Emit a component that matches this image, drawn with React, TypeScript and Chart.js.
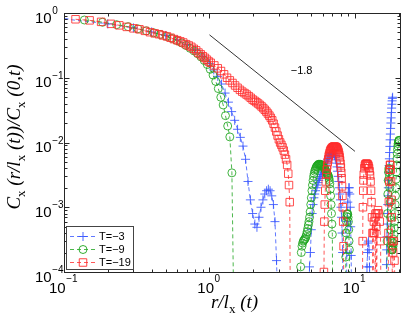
import React, { useEffect, useRef } from 'react';
import { Chart, registerables } from 'chart.js';

Chart.register(...registerables);

// ---------- axes ----------
const X_MIN = 0.1;
const X_MAX = 20.4;
const Y_MIN = 1e-4;
const Y_MAX = 1;
const xTickExponents = [-1, 0, 1];
const yTickExponents = [0, -1, -2, -3, -4];

// ---------- series ----------
const seriesNames = ['T=−3', 'T=−9', 'T=−19'];

// T = -3  (blue, plus markers)
const t3Points: [number, number][] = [
  [0.1, 0.81], [0.2, 0.68], [0.3, 0.59], [0.4, 0.51], [0.5, 0.45], [0.6, 0.385], [0.7, 0.325], [0.8, 0.27], [0.9, 0.215],
  [1.0, 0.165], [1.07, 0.132], [1.14, 0.105], [1.21, 0.08], [1.28, 0.058], [1.35, 0.042], [1.42, 0.03], [1.49, 0.022],
  [1.56, 0.016], [1.63, 0.012], [1.7, 0.0088], [1.77, 0.0055], [1.84, 0.0025], [1.91, 0.0013], [1.98, 0.0008],
  [2.05, 0.00055], [2.12, 0.00049], [2.19, 0.0007], [2.26, 0.001], [2.33, 0.0013], [2.4, 0.0016], [2.47, 0.0018],
  [2.54, 0.0019], [2.61, 0.0018], [2.68, 0.0015], [2.75, 0.0011], [2.82, 0.0006], [2.89, 0.00015], [2.96, 2e-5],
  [4.8, 2e-5], [4.87, 0.00012], [4.94, 0.0002], [5.01, 0.00045], [5.08, 0.0008], [5.15, 0.0011], [5.22, 0.0014],
  [5.29, 0.0016], [5.36, 0.0018], [5.43, 0.002], [5.5, 0.0022], [5.57, 0.0024], [5.64, 0.0026], [5.71, 0.0028],
  [5.78, 0.003], [5.85, 0.0032], [5.92, 0.0034], [5.99, 0.0036], [6.06, 0.0038], [6.13, 0.004], [6.2, 0.0042],
  [6.27, 0.0045], [6.34, 0.0048], [6.41, 0.0051], [6.48, 0.0054], [6.55, 0.0057], [6.62, 0.006], [6.69, 0.0063],
  [6.76, 0.0065], [6.83, 0.0067], [6.9, 0.0068], [6.97, 0.0069], [7.04, 0.0069], [7.11, 0.0068], [7.18, 0.0066],
  [7.25, 0.0063], [7.32, 0.0059], [7.39, 0.0054], [7.46, 0.0048], [7.53, 0.0042], [7.6, 0.0036], [7.67, 0.003],
  [7.74, 0.0025], [7.81, 0.002], [7.88, 0.0016], [7.95, 0.0013], [8.02, 0.001], [8.09, 0.0007], [8.16, 0.0004],
  [8.23, 0.0002], [8.3, 2e-5],
  [8.72, 2e-5], [8.79, 0.0002], [8.86, 0.0006], [8.93, 0.0012], [9.0, 0.0017], [9.07, 0.002], [9.14, 0.002],
  [9.21, 0.0016], [9.28, 0.001], [9.35, 0.0005], [9.42, 0.00018], [9.49, 2e-5],
  [12.0, 2e-5], [12.1, 0.00012], [12.2, 0.0002], [12.3, 0.00028], [12.4, 0.0003], [12.5, 0.00022],
  [12.6, 0.00012], [12.7, 2e-5],
  [16.4, 2e-5], [16.47, 0.00013], [16.54, 0.00022], [16.61, 0.00035], [16.68, 0.00055], [16.75, 0.0008],
  [16.82, 0.0011], [16.89, 0.0015], [16.96, 0.002], [17.03, 0.0026], [17.1, 0.0034], [17.17, 0.0044],
  [17.24, 0.0056], [17.31, 0.007], [17.38, 0.0087], [17.45, 0.011], [17.52, 0.0135], [17.59, 0.0165],
  [17.66, 0.02], [17.73, 0.024], [17.8, 0.029], [17.87, 0.034], [17.94, 0.039], [18.01, 0.044], [18.08, 0.048],
  [18.15, 0.05],
];

// T = -9  (green, circle markers)
const t9Points: [number, number][] = [
  [0.138, 0.78], [0.184, 0.72], [0.23, 0.66], [0.276, 0.615], [0.322, 0.57], [0.368, 0.53], [0.414, 0.495],
  [0.46, 0.465], [0.506, 0.435], [0.552, 0.405], [0.598, 0.375], [0.644, 0.345], [0.69, 0.315], [0.736, 0.285],
  [0.782, 0.26], [0.828, 0.235], [0.874, 0.21], [0.92, 0.185], [0.966, 0.16], [1.012, 0.135], [1.058, 0.11],
  [1.104, 0.088], [1.15, 0.068], [1.196, 0.05], [1.242, 0.038], [1.288, 0.026], [1.334, 0.018], [1.38, 0.0122],
  [1.426, 0.0034], [1.472, 2e-5],
  [4.186, 2e-5], [4.232, 0.00012], [4.278, 0.0002], [4.324, 0.00025], [4.37, 0.00028], [4.416, 0.0003],
  [4.462, 0.00031], [4.508, 0.00032], [4.554, 0.00033], [4.6, 0.00035], [4.646, 0.00038], [4.692, 0.00042],
  [4.738, 0.00047], [4.784, 0.00053], [4.83, 0.0006], [4.876, 0.0007], [4.922, 0.00085], [4.968, 0.0011],
  [5.014, 0.0014], [5.06, 0.0018], [5.106, 0.0022], [5.152, 0.0026], [5.198, 0.003], [5.244, 0.0033],
  [5.29, 0.0036], [5.336, 0.0038], [5.382, 0.004], [5.428, 0.0042], [5.474, 0.0043], [5.52, 0.0044],
  [5.566, 0.0045], [5.612, 0.0046], [5.658, 0.0046], [5.704, 0.0046], [5.75, 0.0046], [5.796, 0.0046],
  [5.842, 0.0045], [5.888, 0.0045], [5.934, 0.0044], [5.98, 0.0044], [6.026, 0.0043], [6.072, 0.0042],
  [6.118, 0.0041], [6.164, 0.004], [6.21, 0.0039], [6.256, 0.0038], [6.302, 0.0036], [6.348, 0.0035],
  [6.394, 0.0034], [6.44, 0.0033], [6.486, 0.0032], [6.532, 0.0031], [6.578, 0.003], [6.624, 0.0028],
  [6.67, 0.0026], [6.716, 0.0023], [6.762, 0.0019], [6.808, 0.0015], [6.854, 0.0011], [6.9, 0.0008],
  [6.946, 0.00055], [6.992, 0.00038], [7.038, 2e-5],
  [8.602, 2e-5], [8.648, 0.00017], [8.694, 0.0004], [8.74, 0.0006], [8.786, 0.00072], [8.832, 0.00078],
  [8.878, 0.0008], [8.924, 0.00078], [8.97, 0.0007], [9.016, 0.0006], [9.062, 0.00045], [9.108, 0.0003],
  [9.154, 0.00022], [9.2, 2e-5],
  [16.56, 2e-5], [16.65, 0.0003], [16.74, 0.0008], [16.83, 0.0016], [16.92, 0.0026], [17.01, 0.0035],
  [17.1, 0.004], [17.19, 0.0038], [17.28, 0.003], [17.37, 0.002], [17.46, 0.0012], [17.55, 0.0007],
  [17.64, 0.00045], [17.73, 0.0003], [17.82, 0.00025], [17.91, 0.00022], [18.0, 0.00022], [18.09, 0.00022],
  [18.18, 0.00023], [18.27, 0.00025], [18.36, 0.00028], [18.45, 0.00032], [18.54, 0.00038], [18.63, 0.00048],
  [18.72, 0.0006], [18.81, 0.0008], [18.9, 0.0011], [18.99, 0.0015], [19.08, 0.002], [19.17, 0.0027],
  [19.26, 0.0035], [19.35, 0.0045], [19.44, 0.0056], [19.53, 0.0067], [19.62, 0.0078], [19.71, 0.0088],
  [19.8, 0.0096], [19.89, 0.0102], [19.98, 0.0106], [20.07, 0.0108], [20.16, 0.0108],
];

// T = -19  (red, square markers)
const t19Points: [number, number][] = [
  [0.12, 0.8], [0.15, 0.77], [0.18, 0.73], [0.21, 0.68], [0.24, 0.645], [0.27, 0.61], [0.3, 0.58], [0.33, 0.56],
  [0.36, 0.53], [0.39, 0.505], [0.42, 0.485], [0.45, 0.47], [0.48, 0.45], [0.51, 0.435], [0.54, 0.415],
  [0.57, 0.395], [0.6, 0.38], [0.63, 0.365], [0.66, 0.35], [0.69, 0.33], [0.72, 0.315], [0.75, 0.3], [0.78, 0.28],
  [0.81, 0.265], [0.84, 0.245], [0.87, 0.23], [0.9, 0.215], [0.93, 0.203], [0.96, 0.19], [0.99, 0.178],
  [1.02, 0.17], [1.08, 0.155], [1.14, 0.14], [1.2, 0.127], [1.26, 0.113], [1.32, 0.1], [1.38, 0.091], [1.44, 0.083],
  [1.5, 0.076], [1.56, 0.07], [1.62, 0.065], [1.68, 0.061], [1.74, 0.058], [1.8, 0.055], [1.86, 0.052],
  [1.92, 0.049], [1.98, 0.046], [2.04, 0.044], [2.1, 0.042], [2.16, 0.04], [2.22, 0.038], [2.28, 0.036],
  [2.34, 0.034], [2.4, 0.032], [2.46, 0.03], [2.52, 0.028], [2.58, 0.026], [2.64, 0.024], [2.7, 0.022],
  [2.76, 0.0195], [2.82, 0.017], [2.88, 0.0148], [2.94, 0.0128], [3.0, 0.0112], [3.06, 0.01], [3.12, 0.0092],
  [3.18, 0.0084], [3.24, 0.0075], [3.3, 0.0065], [3.36, 0.0055], [3.42, 0.0045], [3.48, 0.0033], [3.52, 0.0022],
  [3.56, 0.0012], [3.6, 2e-5],
  [6.08, 2e-5], [6.12, 0.0001], [6.16, 0.0006], [6.2, 0.0011], [6.25, 0.0018], [6.3, 0.0025], [6.35, 0.0032],
  [6.4, 0.0038], [6.45, 0.0044], [6.5, 0.005], [6.55, 0.0055], [6.6, 0.0061], [6.65, 0.0065], [6.7, 0.0069],
  [6.75, 0.0073], [6.8, 0.0076], [6.85, 0.0078], [6.9, 0.008], [6.95, 0.0082], [7.0, 0.0083], [7.05, 0.0084],
  [7.1, 0.0085], [7.15, 0.0086], [7.2, 0.0086], [7.25, 0.0086], [7.3, 0.0086], [7.35, 0.0085], [7.4, 0.0085],
  [7.45, 0.0084], [7.5, 0.0082], [7.55, 0.008], [7.6, 0.0078], [7.65, 0.0075], [7.7, 0.0072], [7.75, 0.0068],
  [7.8, 0.0064], [7.85, 0.0059], [7.9, 0.0053], [7.95, 0.0047], [8.0, 0.0041], [8.05, 0.0034], [8.1, 0.0028],
  [8.15, 0.0021], [8.2, 0.0015], [8.25, 0.001], [8.3, 0.0006], [8.35, 0.00025], [8.4, 2e-5],
  [11.25, 2e-5], [11.3, 0.0003], [11.35, 0.001], [11.4, 0.0018], [11.45, 0.0026], [11.5, 0.0032], [11.6, 0.004],
  [11.7, 0.0044], [11.8, 0.0046], [11.9, 0.0047], [12.0, 0.0047], [12.1, 0.0047], [12.2, 0.0046], [12.3, 0.0045],
  [12.4, 0.0043], [12.5, 0.004], [12.6, 0.0036], [12.7, 0.0031], [12.8, 0.0025], [12.9, 0.0018], [13.0, 0.0012],
  [13.1, 0.0007], [13.2, 0.0004], [13.3, 2e-5],
  [13.4, 0.0004], [13.5, 0.0006], [13.6, 0.0004], [13.7, 0.0007], [13.8, 2e-5], [13.9, 0.0008], [14.0, 0.0005],
  [14.1, 2e-5], [14.2, 0.0008], [14.4, 0.0009], [14.6, 0.0008], [14.8, 0.0006], [15.0, 0.0003], [15.1, 2e-5],
  [16.9, 2e-5], [17.0, 0.0004], [17.1, 0.0012], [17.2, 0.0025], [17.3, 0.0038], [17.4, 0.0045], [17.5, 0.0045],
  [17.6, 0.0038], [17.7, 0.0025], [17.8, 0.0013], [17.9, 0.0007], [18.0, 0.0003], [18.1, 2e-5],
  [18.3, 0.0002], [18.5, 0.0003], [18.7, 0.00015], [18.9, 2e-5],
];

// reference power-law line (slope -1.8)
const slopeX = [1, 10];
const slopeY = [0.46, 0.0073];
const slopeLabel = '−1.8';

// axis titles
type Seg = { t: string; sub?: boolean };
const xTitleParts: Seg[] = [{ t: 'r/l' }, { t: 'x', sub: true }, { t: ' (t)' }];
const yTitleParts: Seg[] = [
  { t: 'C' }, { t: 'x', sub: true }, { t: ' (r/l' }, { t: 'x', sub: true }, { t: ' (t))/C' },
  { t: 'x', sub: true }, { t: ' (0,t)' },
];

const COLORS = ['rgb(55,85,255)', 'rgb(30,165,30)', 'rgb(255,45,45)'];
const MARKERS = ['cross', 'circle', 'rect'];
const SANS = '"Liberation Sans", Arial, Helvetica, sans-serif';
const SERIF = '"Liberation Serif", "Times New Roman", Times, serif';

function drawRich(ctx: CanvasRenderingContext2D, segs: Seg[], size: number, subSize: number, cx: number, base: number) {
  const fontOf = (s: Seg) => (s.sub ? `${subSize}px ${SERIF}` : `italic ${size}px ${SERIF}`);
  const widths = segs.map((s) => {
    ctx.font = fontOf(s);
    return ctx.measureText(s.t).width;
  });
  const total = widths.reduce((a, b) => a + b, 0);
  let x = cx - total / 2;
  ctx.textAlign = 'left';
  ctx.textBaseline = 'alphabetic';
  segs.forEach((s, i) => {
    ctx.font = fontOf(s);
    ctx.fillText(s.t, x, base + (s.sub ? subSize * 0.42 : 0));
    x += widths[i];
  });
}

function supText(e: number) {
  return e < 0 ? '−' + String(-e) : String(e);
}

function drawMarker(ctx: CanvasRenderingContext2D, kind: string, x: number, y: number, color: string) {
  ctx.save();
  ctx.setLineDash([]);
  ctx.strokeStyle = color;
  ctx.lineWidth = 0.9;
  ctx.beginPath();
  if (kind === 'cross') {
    ctx.moveTo(x - 4.5, y); ctx.lineTo(x + 4.5, y);
    ctx.moveTo(x, y - 4.5); ctx.lineTo(x, y + 4.5);
  } else if (kind === 'circle') {
    ctx.arc(x, y, 4, 0, Math.PI * 2);
  } else {
    ctx.rect(x - 3.75, y - 3.75, 7.5, 7.5);
  }
  ctx.stroke();
  ctx.restore();
}

const decorPlugin = {
  id: 'matlabDecor',
  afterDatasetsDraw(chart: any) {
    const { ctx, chartArea: ca, scales } = chart;
    const xs = scales.x;
    const ys = scales.y;
    ctx.save();

    // slope label
    ctx.fillStyle = '#000';
    ctx.font = `11px ${SANS}`;
    ctx.textAlign = 'center';
    ctx.textBaseline = 'alphabetic';
    ctx.fillText(slopeLabel, xs.getPixelForValue(4.3), ys.getPixelForValue(0.115));

    // axes box
    ctx.strokeStyle = '#262626';
    ctx.lineWidth = 1;
    ctx.setLineDash([]);
    const L = Math.round(ca.left) + 0.5;
    const R = Math.round(ca.right) + 0.5;
    const T = Math.round(ca.top) + 0.5;
    const B = Math.round(ca.bottom) + 0.5;
    ctx.strokeRect(L, T, R - L, B - T);

    // ticks (inward, all four sides)
    ctx.beginPath();
    for (let e = -1; e <= 1; e++) {
      for (let m = 1; m <= 9; m++) {
        const v = m * Math.pow(10, e);
        if (v < X_MIN - 1e-9 || v > X_MAX) continue;
        const px = Math.round(xs.getPixelForValue(v)) + 0.5;
        const len = m === 1 ? 5 : 3;
        ctx.moveTo(px, B); ctx.lineTo(px, B - len);
        ctx.moveTo(px, T); ctx.lineTo(px, T + len);
      }
    }
    for (let e = -4; e <= 0; e++) {
      for (let m = 1; m <= 9; m++) {
        const v = m * Math.pow(10, e);
        if (v < Y_MIN - 1e-12 || v > Y_MAX + 1e-9) continue;
        const py = Math.round(ys.getPixelForValue(v)) + 0.5;
        const len = m === 1 ? 5 : 3;
        ctx.moveTo(L, py); ctx.lineTo(L + len, py);
        ctx.moveTo(R, py); ctx.lineTo(R - len, py);
      }
    }
    ctx.stroke();

    // tick labels
    ctx.fillStyle = '#000';
    ctx.textAlign = 'left';
    ctx.textBaseline = 'alphabetic';
    xTickExponents.forEach((e) => {
      const px = xs.getPixelForValue(Math.pow(10, e));
      ctx.font = `15px ${SANS}`;
      const w10 = ctx.measureText('10').width;
      ctx.font = `10px ${SANS}`;
      const ws = ctx.measureText(supText(e)).width;
      const start = px - (w10 + ws) / 2 - 1;
      ctx.font = `15px ${SANS}`;
      ctx.fillText('10', start, ca.bottom + 21);
      ctx.font = `10px ${SANS}`;
      ctx.fillText(supText(e), start + w10 + 0.5, ca.bottom + 10);
    });
    yTickExponents.forEach((e) => {
      const py = ys.getPixelForValue(Math.pow(10, e));
      ctx.font = `15px ${SANS}`;
      const w10 = ctx.measureText('10').width;
      ctx.fillText('10', 35, py + 9.5);
      ctx.font = `10px ${SANS}`;
      ctx.fillText(supText(e), 35 + w10 + 0.5, py + 1);
    });

    // axis titles
    ctx.fillStyle = '#000';
    drawRich(ctx, xTitleParts, 19, 13, 234.5, ca.bottom + 36);
    ctx.save();
    ctx.translate(20, 137);
    ctx.rotate(-Math.PI / 2);
    drawRich(ctx, yTitleParts, 19, 13, 0, 0);
    ctx.restore();

    // legend
    const bx = 66.5, by = 226.5, bw = 67, bh = 43;
    ctx.fillStyle = '#fff';
    ctx.fillRect(bx, by, bw, bh);
    ctx.strokeStyle = '#444';
    ctx.lineWidth = 1;
    ctx.strokeRect(bx, by, bw, bh);
    seriesNames.forEach((name, i) => {
      const ry = 236.5 + i * 13;
      ctx.save();
      ctx.strokeStyle = COLORS[i];
      ctx.lineWidth = 0.8;
      ctx.setLineDash([4, 3]);
      ctx.beginPath();
      ctx.moveTo(70, ry); ctx.lineTo(96, ry);
      ctx.stroke();
      ctx.restore();
      drawMarker(ctx, MARKERS[i], 83, ry, COLORS[i]);
      ctx.fillStyle = '#000';
      ctx.font = `11px ${SANS}`;
      ctx.textAlign = 'left';
      ctx.textBaseline = 'middle';
      ctx.fillText(name, 99, ry + 0.5);
    });

    ctx.restore();
  },
};

export default function App() {
  const ref = useRef<HTMLCanvasElement | null>(null);

  useEffect(() => {
    if (!ref.current) return;
    const mk = (pts: [number, number][]) => pts.map(([x, y]) => ({ x, y }));
    const seriesPts = [t3Points, t9Points, t19Points];
    const datasets: any[] = seriesPts.map((pts, i) => ({
      label: seriesNames[i],
      data: mk(pts),
      showLine: true,
      borderColor: COLORS[i],
      borderWidth: 0.8,
      borderDash: [4, 3],
      pointStyle: MARKERS[i],
      pointRadius: i === 0 ? 4.5 : i === 1 ? 4 : 5.3,
      pointBorderColor: COLORS[i],
      pointBackgroundColor: 'rgba(0,0,0,0)',
      pointBorderWidth: 0.85,
      pointHoverRadius: 0,
      order: 2 - i,
      tension: 0,
    }));
    datasets.push({
      label: 'slope',
      data: slopeX.map((x, i) => ({ x, y: slopeY[i] })),
      showLine: true,
      borderColor: '#000',
      borderWidth: 0.8,
      pointRadius: 0,
      order: 5,
    });

    const chart = new Chart(ref.current, {
      type: 'scatter',
      data: { datasets },
      options: {
        animation: false,
        responsive: false,
        devicePixelRatio: 1,
        events: [],
        layout: { padding: { left: 64, top: 13, right: 7, bottom: 49 } },
        plugins: { legend: { display: false }, tooltip: { enabled: false } },
        scales: {
          x: { type: 'logarithmic', min: X_MIN, max: X_MAX, display: false },
          y: { type: 'logarithmic', min: Y_MIN, max: Y_MAX, display: false },
        },
      },
      plugins: [decorPlugin],
    } as any);
    return () => chart.destroy();
  }, []);

  return (
    <div style={{ position: 'fixed', left: 0, top: 0, width: 407, height: 321, background: '#fff' }}>
      <canvas ref={ref} width={407} height={321} style={{ display: 'block', width: 407, height: 321 }} />
    </div>
  );
}
